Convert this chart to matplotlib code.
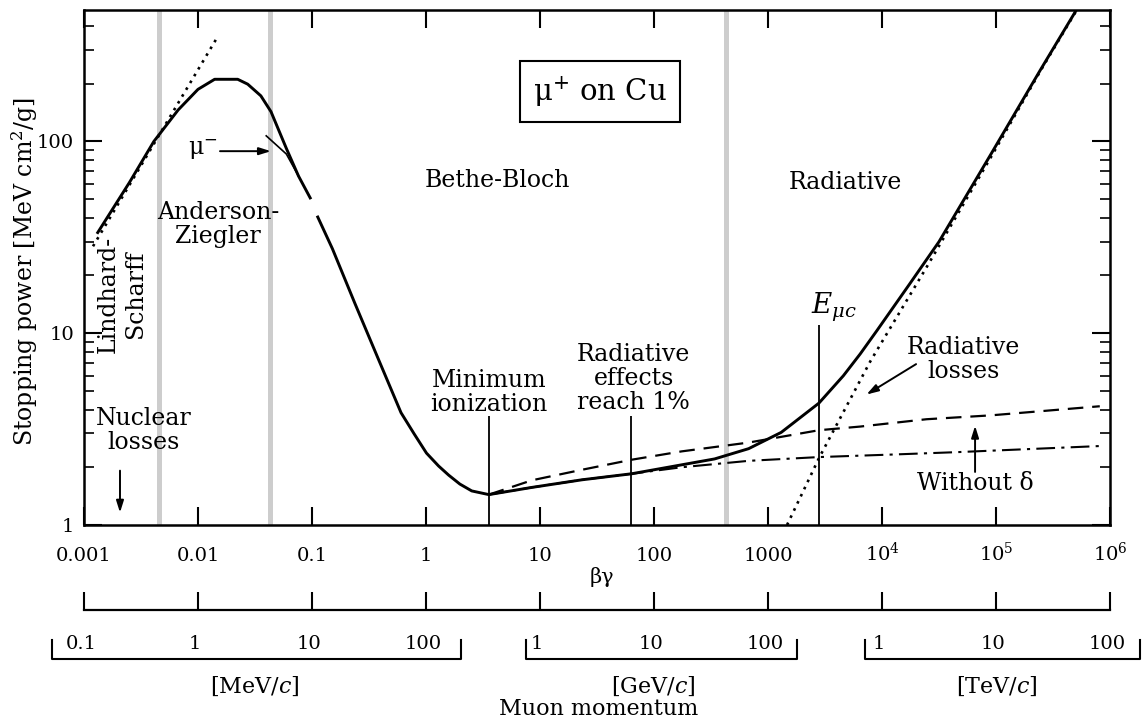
import matplotlib
matplotlib.use("Agg")
import matplotlib.pyplot as plt
import matplotlib.transforms as mtransforms
from matplotlib.ticker import NullLocator, LogLocator, FixedLocator, NullFormatter
import numpy as np

plt.rcParams['font.family'] = ['DejaVu Serif']
plt.rcParams['mathtext.fontset'] = 'dejavuserif'

M_MU = 105.66  # MeV/c^2

# total stopping power, mu+ on Cu (gap at bg ~ 0.1)
bg_low = [0.0013, 0.0025, 0.0041, 0.0067, 0.0100, 0.0140, 0.0223, 0.0273,
          0.0356, 0.0437, 0.0596, 0.0762, 0.0978]
sp_low = [33, 61, 100, 146, 187, 211, 211, 199, 173, 143, 92, 66, 50]
bg_high = [0.111, 0.151, 0.238, 0.376, 0.604, 0.789, 1.01, 1.29, 1.58, 1.98,
           2.52, 3.56, 8.49, 23.3, 63.9, 340, 676, 1306, 2797, 4580, 6440,
           9000, 17400, 31600, 90400, 245000, 510000]
sp_high = [41, 27.6, 14.3, 7.5, 3.85, 2.98, 2.37, 2.03, 1.82, 1.635,
           1.505, 1.44, 1.57, 1.72, 1.85, 2.21, 2.50, 3.04, 4.32, 6.0, 7.8,
           10.3, 18.0, 30.0, 86, 236, 488]
# without density effect
bg_nodelta = [3.56, 8.49, 23.3, 63.9, 175, 676, 2797, 6440, 24600, 90400, 813000]
sp_nodelta = [1.44, 1.71, 1.94, 2.19, 2.42, 2.69, 3.12, 3.26, 3.56, 3.73, 4.16]
# ionization only (with delta)
bg_ion = [3.56, 8.49, 23.3, 63.9, 175, 676, 2797, 12400, 47300, 813000]
sp_ion = [1.44, 1.57, 1.72, 1.85, 2.0, 2.16, 2.26, 2.33, 2.40, 2.58]
# radiative losses
bg_rad = [1469, 1960, 2797, 7870, 24500, 90400, 245000, 510000]
sp_rad = [1.0, 1.43, 2.23, 7.11, 22, 83, 233, 484]
# Lindhard-Scharff extrapolation
bg_lind = [0.0012, 0.0148]
sp_lind = [28.4, 350]
# mu- near the Barkas region
bg_mum = [0.0397, 0.0596, 0.0762]
sp_mum = [107, 86, 66]

band_bg = [0.0046, 0.043, 430]

xtick_vals = [1e-3, 1e-2, 1e-1, 1, 10, 100, 1000, 1e4, 1e5, 1e6]
xtick_txt = ['0.001', '0.01', '0.1', '1', '10', '100', '1000',
             r'$10^4$', r'$10^5$', r'$10^6$']
ytick_vals = [1, 10, 100]
ytick_txt = ['1', '10', '100']

# momentum scales: unit label, MeV per unit, tick values, bracket ends, unit label position
mom_units = ['[MeV/$c$]', '[GeV/$c$]', '[TeV/$c$]']
mom_scale = [1.0, 1e3, 1e6]
mom_ticks = [[0.1, 1, 10, 100], [1, 10, 100], [1, 10, 100]]
mom_ticktxt = [['0.1', '1', '10', '100'], ['1', '10', '100'], ['1', '10', '100']]
mom_ends = [(0.055, 214), (0.80, 190), (0.75, 194)]
mom_unitpos = [3.3, 10.4, 10.8]

fig = plt.figure(figsize=(11.44, 7.23), dpi=100)
L, B, W, H = 0.0734, 0.2739, 0.8969, 0.7123
ax = fig.add_axes([L, B, W, H])
ax.set_xscale('log')
ax.set_yscale('log')
ax.set_xlim(1e-3, 1e6)
ax.set_ylim(1, 485)

for c in band_bg:
    ax.axvspan(c / 1.055, c * 1.055, color='#cdcdcd', lw=0, zorder=0)

ax.plot(bg_low, sp_low, color='k', lw=2.1, solid_capstyle='butt')
ax.plot(bg_high, sp_high, color='k', lw=2.1, solid_capstyle='butt')
ax.plot(bg_nodelta, sp_nodelta, color='k', lw=1.6, dashes=(7, 4))
ax.plot(bg_ion, sp_ion, color='k', lw=1.5, dashes=(9, 3, 1.5, 3))
ax.plot(bg_rad, sp_rad, color='k', lw=1.9, ls=(0, (1, 2)))
ax.plot(bg_lind, sp_lind, color='k', lw=1.9, ls=(0, (1, 2)))
ax.plot(bg_mum, sp_mum, color='k', lw=1.2)

# markers for annotations
ax.vlines(3.56, 1, 3.72, color='k', lw=1.3)
ax.vlines(62.5, 1, 3.68, color='k', lw=1.3)
ax.vlines(2800, 1, 11.0, color='k', lw=1.3)

fs = 17
ax.text(4.2, 62.5, 'Bethe-Bloch', fontsize=fs, ha='center', va='center')
ax.text(4730, 61, 'Radiative', fontsize=fs, ha='center', va='center')
ax.text(33.6, 182, 'μ$^{+}$ on Cu', fontsize=21, ha='center', va='center',
        bbox=dict(boxstyle='square,pad=0.45', fc='white', ec='k', lw=1.5))
ax.text(0.0150, 36.9, 'Anderson-\nZiegler', fontsize=fs, ha='center', va='center',
        linespacing=1.05)
ax.text(0.00215, 16, 'Lindhard-\nScharff', fontsize=fs, ha='center', va='center',
        rotation=90, linespacing=1.2)
ax.text(0.00336, 3.12, 'Nuclear\nlosses', fontsize=fs, ha='center', va='center',
        linespacing=1.05)
ax.text(3.56, 4.9, 'Minimum\nionization', fontsize=fs, ha='center', va='center',
        linespacing=1.05)
ax.text(66.5, 5.8, 'Radiative\neffects\nreach 1%', fontsize=fs, ha='center',
        va='center', linespacing=1.05)
ax.text(3790, 13.6, r'$E_{\mu c}$', fontsize=20, ha='center', va='center')
ax.text(51900, 7.27, 'Radiative\nlosses', fontsize=fs, ha='center', va='center',
        linespacing=1.05)
ax.text(65500, 1.64, 'Without δ', fontsize=fs, ha='center', va='center')
ax.text(0.0111, 90.8, 'μ$^{-}$', fontsize=fs, ha='center', va='center')

arw = dict(arrowstyle='-|>,head_length=0.7,head_width=0.22', color='k', lw=1.4,
           shrinkA=0, shrinkB=0)
ax.annotate('', xy=(0.00207, 1.16), xytext=(0.00207, 1.92), arrowprops=arw)
ax.annotate('', xy=(0.0436, 89), xytext=(0.0156, 89), arrowprops=arw)
ax.annotate('', xy=(7310, 4.79), xytext=(19900, 6.9), arrowprops=arw)
ax.annotate('', xy=(65500, 3.29), xytext=(65500, 1.89), arrowprops=arw)

# axes styling
for s in ax.spines.values():
    s.set_linewidth(1.8)
ax.xaxis.set_major_locator(FixedLocator(xtick_vals))
ax.xaxis.set_minor_locator(NullLocator())
ax.xaxis.set_major_formatter(NullFormatter())
ax.yaxis.set_major_locator(FixedLocator(ytick_vals))
ax.yaxis.set_minor_locator(LogLocator(base=10, subs=np.arange(2, 10)))
ax.yaxis.set_minor_formatter(NullFormatter())
ax.set_yticklabels(ytick_txt)
ax.tick_params(which='both', direction='in', top=True, right=True, labelsize=14)
ax.tick_params(which='major', length=13, width=1.5, pad=7)
ax.tick_params(which='minor', length=7, width=1.2)

figx = mtransforms.blended_transform_factory(ax.transData, fig.transFigure)
for v, t in zip(xtick_vals, xtick_txt):
    ax.text(v, 1 - 561 / 723, t, transform=figx, fontsize=14, ha='center',
            va='baseline', clip_on=False)

ax.text(35, 1 - 577 / 723, 'βγ', transform=figx, fontsize=15,
        ha='center', va='center', clip_on=False)
fig.text(0.0219, 0.625, 'Stopping power [MeV cm$^2$/g]', rotation=90,
         fontsize=17, ha='center', va='center')

# beta-gamma decade scale under the plot
ax2 = fig.add_axes([L, 1 - 610 / 723, W, 0.04], facecolor='none')
ax2.set_xscale('log')
ax2.set_xlim(1e-3, 1e6)
ax2.set_yticks([])
for k in ['top', 'left', 'right']:
    ax2.spines[k].set_visible(False)
ax2.spines['bottom'].set_linewidth(1.6)
ax2.xaxis.set_major_locator(FixedLocator(xtick_vals))
ax2.xaxis.set_minor_locator(NullLocator())
ax2.xaxis.set_major_formatter(NullFormatter())
ax2.tick_params(which='major', direction='in', length=13, width=1.5)

# muon momentum brackets
yb, ye, yl = 1 - 659 / 723, 1 - 640 / 723, 1 - 649 / 723
for unit, sc, tv, tt, ends, upos in zip(mom_units, mom_scale, mom_ticks,
                                          mom_ticktxt, mom_ends, mom_unitpos):
    x0, x1 = ends[0] * sc / M_MU, ends[1] * sc / M_MU
    ax.plot([x0, x0, x1, x1], [ye, yb, yb, ye], transform=figx, color='k',
            lw=1.5, clip_on=False)
    for v, t in zip(tv, tt):
        ax.text(v * sc / M_MU, yl, t, transform=figx, fontsize=14, ha='center',
                va='baseline', clip_on=False)
    ax.text(upos * sc / M_MU, 1 - 686 / 723, unit, transform=figx, fontsize=16,
            ha='center', va='center', clip_on=False)

ax.text(33, 1 - 709 / 723, 'Muon momentum', transform=figx, fontsize=16,
        ha='center', va='center', clip_on=False)

fig.savefig('out.png', dpi=100)
